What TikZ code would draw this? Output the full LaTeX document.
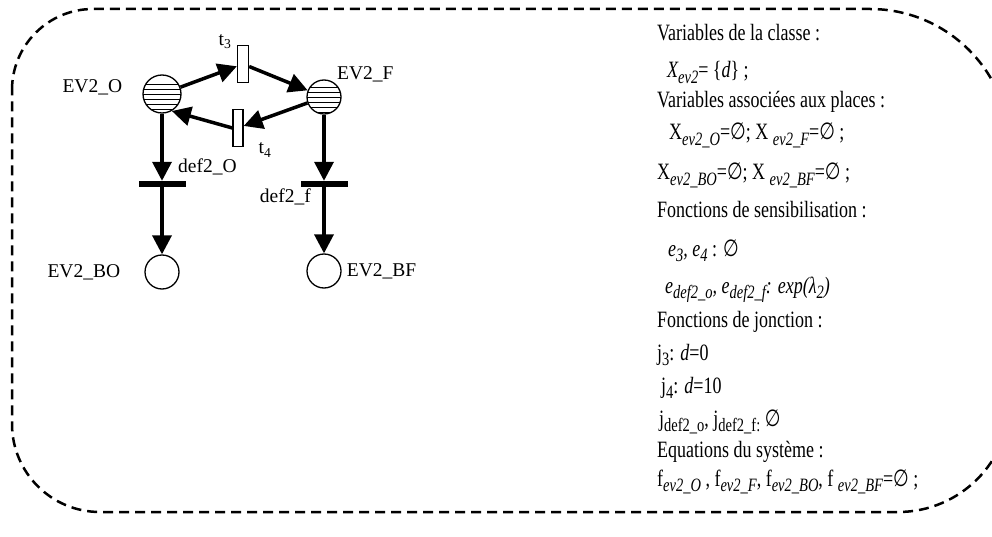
\documentclass[tikz,border=0pt]{standalone}
\usepackage{fontspec}
\setmainfont{Liberation Serif}
\newfontfamily\symfont{DejaVu Sans}
\usepackage{graphicx}
\usepackage{tikz}
\usetikzlibrary{arrows.meta,positioning}

% subscripts, empty set, tall text lines
\newcommand{\isub}[1]{\raisebox{-0.25em}{\fontsize{14.5}{15}\selectfont\itshape #1}}
\newcommand{\usub}[1]{\raisebox{-0.25em}{\fontsize{14.5}{15}\selectfont #1}}
\newcommand{\vide}{{\symfont\upshape ∅}}
\newcommand{\ligne}[1]{\scalebox{1}[1.3]{#1}}

\tikzset{
  place/.style={circle, draw, line width=1.3pt, minimum size=34pt, inner sep=0pt},
  hatched/.style={path picture={
      \foreach \k in {-10,-5,0,5,10,15}
        \draw[line width=0.7pt] ([yshift=-\k pt]path picture bounding box.west) -- ([yshift=-\k pt]path picture bounding box.east);}},
  trans/.style={rectangle, draw, fill=white, line width=1.3pt, minimum width=11pt, minimum height=37pt, inner sep=0pt},
  bar/.style={rectangle, fill=black, minimum width=47pt, minimum height=6pt, inner sep=0pt},
  flow/.style={line width=3.5pt, -{Triangle[length=19pt,width=19pt]}},
  lbl/.style={font=\fontsize{19.5}{20}\selectfont, inner sep=0pt},
  txt/.style={anchor=base west, inner sep=0pt, font=\fontsize{18}{20}\selectfont},
  border/.style={dash pattern=on 10pt off 6pt, line width=2.5pt}
}

\begin{document}
\begin{tikzpicture}[x=1pt, y=-1pt]
  \useasboundingbox (0,0) rectangle (992,537);

  % dashed frame
  \draw[border] (12,90) arc[start angle=180, end angle=270, radius=81] -- (870,9)
    arc[start angle=270, end angle=360, radius=140] -- (1010,400)
    arc[start angle=0, end angle=90, radius=112] -- (100,512)
    arc[start angle=90, end angle=180, radius=88] -- cycle;

  % places and transitions
  \node[place, hatched, minimum size=38pt] (o) at (162,94) {};
  \node[place, hatched] (f) at (324,97) {};
  \node[trans] (t3) at (243,64) {};
  \node[trans, minimum width=10pt] (t4) at (238,128) {};
  \node[bar] (bo) at (162,184) {};
  \node[bar] (bf) at (324,184) {};
  \node[place] (BO) at (162,272) {};
  \node[place] (BF) at (324,271) {};

  \node[lbl, left=20pt of o, yshift=7pt] (lo) {EV2\_O};
  \node[lbl, anchor=west] (lf) at (337,74) {EV2\_F};
  \node[lbl] (lt3) at (225,42) {t\textsubscript{3}};
  \node[lbl] (lt4) at (265,150) {t\textsubscript{4}};
  \node[lbl, anchor=west] (lbo) at (178,167) {def2\_O};
  \node[lbl, anchor=east] (lbf) at (311,197) {def2\_f};
  \node[lbl, left=24pt of BO] (lBO) {EV2\_BO};
  \node[lbl, right=5pt of BF] (lBF) {EV2\_BF};

  \draw[flow] (o) -- (t3);
  \draw[flow] (t3) -- (f);
  \draw[flow] (f) -- (t4);
  \draw[flow] (t4.west) -- (o.-60);
  \draw[flow] (o) -- (bo);
  \draw[flow] (bo) -- (BO);
  \draw[flow] (f) -- (bf);
  \draw[flow] (bf) -- (BF);

  % class description
  \node[txt] (v1) at (657,41) {\ligne{Variables de la classe :}};
  \node[txt] (v2) at (667,78) {\ligne{{\itshape X}\isub{ev2}= \{{\itshape d}\} ;}};
  \node[txt] (v3) at (657,108) {\ligne{Variables associées aux places :}};
  \node[txt] (v4) at (669,140) {\ligne{X\isub{ev2\_O}=\vide; X \isub{ev2\_F}=\vide\ ;}};
  \node[txt] (v5) at (657,180) {\ligne{X\isub{ev2\_BO}=\vide; X \isub{ev2\_BF}=\vide\ ;}};
  \node[txt] (v6) at (657,218) {\ligne{Fonctions de sensibilisation :}};
  \node[txt] (v7) at (668,256) {\ligne{{\itshape e\isub{3}, e\isub{4}} : \vide}};
  \node[txt] (v8) at (665,293) {\ligne{{\itshape e\isub{def2\_o}, e\isub{def2\_f}: exp(λ\isub{2})}}};
  \node[txt] (v9) at (657,327) {\ligne{Fonctions de jonction :}};
  \node[txt] (v10) at (657,360) {\ligne{j\usub{3}: {\itshape d}=0}};
  \node[txt] (v11) at (661,393) {\ligne{j\usub{4}: {\itshape d}=10}};
  \node[txt] (v12) at (659,426) {\ligne{j\usub{def2\_o}, j\usub{def2\_f:} \vide}};
  \node[txt] (v13) at (657,457) {\ligne{Equations du système :}};
  \node[txt] (v14) at (657,486) {\ligne{f\isub{ev2\_O} , f\isub{ev2\_F}, f\isub{ev2\_BO}, f \isub{ev2\_BF}=\vide\ ;}};
\end{tikzpicture}
\end{document}
